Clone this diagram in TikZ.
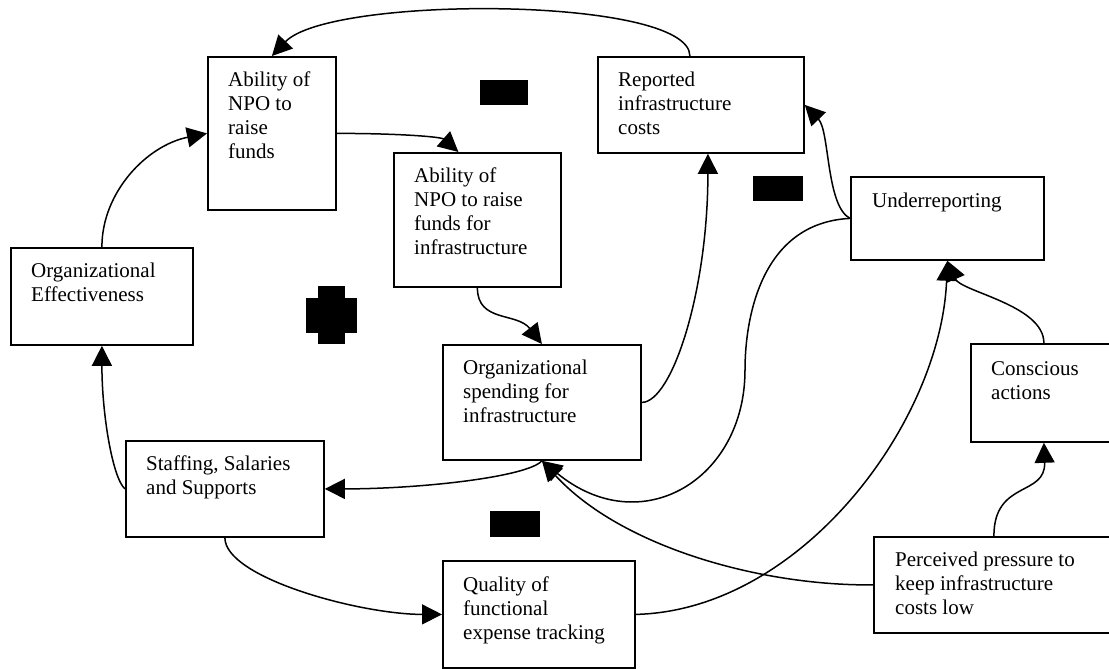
\documentclass[tikz,border=0pt]{standalone}
\usepackage{fontspec}
\setmainfont{Liberation Serif}
\usetikzlibrary{arrows.meta}
\newcommand{\firstline}{\rule{0pt}{18pt}}
\begin{document}
\begin{tikzpicture}[x=1pt,y=-1pt,
  box/.style={draw,line width=1.8pt,rectangle,inner sep=0pt,anchor=north west},
  lbl/.style={anchor=north west,inner sep=0pt,align=left,
    font=\fontsize{21}{24}\selectfont},
  link/.style={line width=1.5pt,-{Triangle[length=20pt,width=20pt]}},
  plain/.style={line width=1.5pt}]
\useasboundingbox (0,0) rectangle (1109,669);

% boxes
\node[box,minimum width=128pt,minimum height=153pt] (A)  at (207,56)  {};
\node[box,minimum width=206pt,minimum height=96pt]  (R)  at (597,56)  {};
\node[box,minimum width=167pt,minimum height=134pt] (B)  at (393,152) {};
\node[box,minimum width=198pt,minimum height=115pt] (O)  at (442,344) {};
\node[box,minimum width=182pt,minimum height=97pt]  (OE) at (10,247)  {};
\node[box,minimum width=198pt,minimum height=96pt]  (S)  at (125,440) {};
\node[box,minimum width=192pt,minimum height=107pt] (Q)  at (442,560) {};
\node[box,minimum width=193pt,minimum height=83pt]  (U)  at (850,176) {};
\node[box,minimum width=146pt,minimum height=98pt]  (C)  at (970,343) {};
\node[box,minimum width=240pt,minimum height=96pt]  (P)  at (873,536) {};

% labels
\node[lbl] (At)  at ([shift={(21,12)}]A.north west)  {\firstline Ability of\\NPO to\\raise\\funds};
\node[lbl] (Rt)  at ([shift={(21,12)}]R.north west)  {\firstline Reported\\infrastructure\\costs};
\node[lbl] (Bt)  at ([shift={(21,12)}]B.north west)  {\firstline Ability of\\NPO to raise\\funds for\\infrastructure};
\node[lbl] (Ot)  at ([shift={(21,12)}]O.north west)  {\firstline Organizational\\spending for\\infrastructure};
\node[lbl] (OEt) at ([shift={(21,12)}]OE.north west) {\firstline Organizational\\Effectiveness};
\node[lbl] (St)  at ([shift={(21,12)}]S.north west)  {\firstline Staffing, Salaries\\and Supports};
\node[lbl] (Qt)  at ([shift={(21,13)}]Q.north west)  {\firstline Quality of\\functional\\expense tracking};
\node[lbl] (Ut)  at ([shift={(22,13)}]U.north west)  {\firstline Underreporting};
\node[lbl] (Ct)  at ([shift={(21,14)}]C.north west)  {\firstline Conscious\\actions};
\node[lbl] (Pt)  at ([shift={(22,12)}]P.north west)  {\firstline Perceived pressure to\\keep infrastructure\\costs low};

% polarity marks
\fill (480,80) rectangle (528,105);
\fill (753,176) rectangle (803,201);
\fill (490,511) rectangle (540,537);
\fill (318,286) rectangle (345,344);
\fill (306,298) rectangle (357,333);

% connectors
\draw[link] ([shift={(-11,0)}]R.north) .. controls +(0,-60) and +(58,-61) .. (A.north);
\draw[link] (A.east) .. controls +(65,0) and +(-17,-15) .. ([shift={(-19,0)}]B.north);
\draw[link] (B.south) .. controls +(0,35) and +(-25,-32) .. (O.north);
\draw[link] (O.east) .. controls +(30,0) and +(0,138) .. ([shift={(7,0)}]R.south);
\draw[link] (O.south) .. controls +(-14,16) and +(97,0) .. (S.east);
\draw[link] (S.west) .. controls +(-12,-10) and +(0,70) .. (OE.south);
\draw[link] (OE.north) .. controls +(0,-55) and +(-60,12) .. (A.west);
\draw[link] (S.south) .. controls +(0,40) and +(-82,0) .. (Q.west);
\draw[link] (Q.east) .. controls +(166,-4) and +(-6.5,161) .. (U.south);
\draw[link] (U.west) .. controls +(-24,-12.5) and +(25,26) .. (R.east);
\coordinate (bend) at (745,370);
\draw[plain] (U.west) .. controls +(-90,4.5) and +(0,-50) .. (bend);
\draw[link] (bend) .. controls +(0,110) and +(99,81) .. (O.south);
\draw[link] (P.west) .. controls +(-113,1) and +(79,86) .. (O.south);
\draw[link] (C.north) .. controls +(0,-38) and +(13.5,31) .. (U.south);
\draw[link] (P.north) .. controls +(0,-56) and +(2,54) .. (C.south);
\end{tikzpicture}
\end{document}
